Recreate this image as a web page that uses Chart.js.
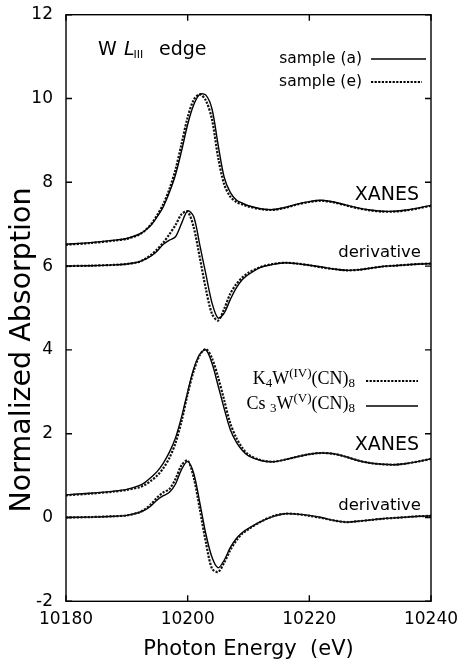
<!DOCTYPE html>
<html><head><meta charset="utf-8">
<script src="https://cdn.jsdelivr.net/npm/chart.js@4/dist/chart.umd.min.js"></script>
<style>html,body{margin:0;padding:0;background:#fff;}canvas{display:block;}</style>
</head><body>
<canvas id="c" width="459" height="666"></canvas>
<script>
// Photon energy grid (eV)
const energy = [10180,10184,10188,10190,10192,10193,10194,10195,10196,10197,10198,10199,10200,10201,10202,10203,10204,10205,10206,10207,10208,10209,10210,10212,10214,10216,10218,10220,10222,10224,10226,10228,10230,10232,10234,10236,10238,10240];

// Top group (offset): sample (a) solid, sample (e) dotted
const xanesSampleA = [6.52,6.56,6.62,6.66,6.76,6.85,6.98,7.18,7.42,7.76,8.18,8.75,9.38,9.85,10.1,10.08,9.75,8.9,8.12,7.76,7.58,7.5,7.44,7.37,7.35,7.4,7.48,7.54,7.57,7.53,7.46,7.39,7.34,7.31,7.31,7.34,7.39,7.45];
const xanesSampleE = [6.51,6.55,6.61,6.65,6.75,6.85,7.0,7.22,7.48,7.84,8.3,8.92,9.55,9.97,10.1,9.95,9.5,8.6,7.95,7.66,7.53,7.47,7.42,7.36,7.34,7.39,7.47,7.53,7.56,7.52,7.45,7.38,7.33,7.3,7.3,7.33,7.38,7.44];
const derivSampleA = [6.0,6.01,6.03,6.05,6.1,6.16,6.24,6.36,6.52,6.62,6.7,7.02,7.32,7.18,6.5,5.8,5.12,4.76,4.88,5.2,5.48,5.68,5.8,5.97,6.04,6.08,6.06,6.02,5.98,5.93,5.9,5.91,5.95,5.99,6.01,6.03,6.05,6.06];
const derivSampleE = [6.0,6.01,6.03,6.05,6.1,6.17,6.27,6.4,6.56,6.76,6.98,7.24,7.3,6.92,6.2,5.45,4.86,4.7,4.98,5.34,5.57,5.73,5.84,5.98,6.05,6.08,6.06,6.02,5.97,5.93,5.9,5.91,5.95,5.99,6.01,6.03,6.05,6.06];

// Bottom group: Cs3W(V)(CN)8 solid, K4W(IV)(CN)8 dotted
const xanesCs3 = [0.54,0.58,0.63,0.67,0.76,0.84,0.96,1.1,1.3,1.56,1.9,2.4,3.0,3.55,3.9,4.0,3.68,3.15,2.6,2.1,1.8,1.6,1.47,1.36,1.33,1.38,1.45,1.51,1.54,1.52,1.45,1.36,1.3,1.27,1.26,1.29,1.34,1.4];
const xanesK4 = [0.53,0.57,0.62,0.66,0.72,0.78,0.88,1.0,1.18,1.42,1.78,2.3,2.95,3.5,3.88,4.02,3.8,3.35,2.8,2.25,1.9,1.66,1.5,1.37,1.33,1.38,1.45,1.51,1.54,1.52,1.45,1.36,1.3,1.27,1.26,1.29,1.34,1.4];
const derivCs3 = [0.0,0.01,0.03,0.05,0.12,0.18,0.28,0.42,0.52,0.6,0.8,1.15,1.34,1.05,0.35,-0.4,-0.95,-1.2,-1.02,-0.72,-0.5,-0.36,-0.26,-0.1,0.02,0.09,0.08,0.05,0.0,-0.07,-0.11,-0.09,-0.06,-0.03,-0.01,0.01,0.03,0.04];
const derivK4 = [0.0,0.01,0.03,0.05,0.12,0.2,0.32,0.48,0.6,0.68,0.92,1.25,1.36,0.95,0.2,-0.6,-1.22,-1.3,-1.08,-0.78,-0.55,-0.38,-0.28,-0.1,0.03,0.09,0.08,0.04,-0.01,-0.07,-0.11,-0.09,-0.06,-0.03,-0.01,0.01,0.03,0.04];

// Axis ranges / ticks
const xRange = [10180, 10240], xStep = 20;
const yRange = [-2, 12], yStep = 2;

const SANS = '"DejaVu Sans", "Liberation Sans", sans-serif';
const SERIF = '"Liberation Serif", "DejaVu Serif", serif';

const pts = arr => energy.map((e, i) => ({x: e, y: arr[i]}));
const solid = (label, arr) => ({label, data: pts(arr), borderColor: '#000', borderWidth: 1.4, pointRadius: 0, fill: false, tension: 0.3});
const dotted = (label, arr) => ({label, data: pts(arr), borderColor: '#111', borderWidth: 2.2, borderDash: [2.2, 1.4], pointRadius: 0, fill: false, tension: 0.3});

function rich(ctx, parts, xRight, yBase) {
  let w = 0;
  parts.forEach(p => { ctx.font = p[1]; w += ctx.measureText(p[0]).width; });
  let x = xRight - w;
  parts.forEach(p => { ctx.font = p[1]; ctx.fillText(p[0], x, yBase + p[2]); x += ctx.measureText(p[0]).width; });
}

const deco = {
  id: 'deco',
  afterDatasetsDraw(chart) {
    const {ctx, chartArea: a, scales: {x, y}} = chart;
    ctx.save();
    ctx.strokeStyle = '#000'; ctx.lineWidth = 1.4; ctx.setLineDash([]);
    ctx.strokeRect(a.left, a.top, a.right - a.left, a.bottom - a.top);
    ctx.beginPath();
    y.ticks.forEach(t => { const py = y.getPixelForValue(t.value);
      ctx.moveTo(a.left, py); ctx.lineTo(a.left + 6, py);
      ctx.moveTo(a.right, py); ctx.lineTo(a.right - 6, py); });
    x.ticks.forEach(t => { const px = x.getPixelForValue(t.value);
      ctx.moveTo(px, a.bottom); ctx.lineTo(px, a.bottom - 6);
      ctx.moveTo(px, a.top); ctx.lineTo(px, a.top + 6); });
    ctx.stroke();

    ctx.fillStyle = '#000';
    // axis titles
    ctx.textAlign = 'center'; ctx.textBaseline = 'middle';
    ctx.font = '21px ' + SANS;
    ctx.fillText('Photon Energy  (eV)', (a.left + a.right) / 2, 650);
    ctx.save();
    ctx.translate(23, 350); ctx.rotate(-Math.PI / 2);
    ctx.font = '28.5px ' + SANS;
    ctx.fillText('Normalized Absorption', 0, 0);
    ctx.restore();

    // W L_III edge
    ctx.textAlign = 'left'; ctx.textBaseline = 'alphabetic';
    ctx.font = '19px ' + SANS; ctx.fillText('W', 98, 54.5);
    ctx.font = 'italic 19px ' + SANS; ctx.fillText('L', 124, 54.5);
    ctx.font = '11px ' + SANS; ctx.fillText('III', 133.5, 57.5);
    ctx.font = '19px ' + SANS; ctx.fillText('edge', 159, 54.5);

    // top legend
    ctx.textAlign = 'right'; ctx.textBaseline = 'middle';
    ctx.font = '15.5px ' + SANS;
    ctx.fillText('sample (a)', 362, 59);
    ctx.fillText('sample (e)', 362, 82);
    ctx.beginPath(); ctx.lineWidth = 1.4; ctx.setLineDash([]);
    ctx.moveTo(371, 59); ctx.lineTo(426, 59); ctx.stroke();
    ctx.beginPath(); ctx.lineWidth = 2.2; ctx.setLineDash([2.2, 1.4]);
    ctx.moveTo(371, 82); ctx.lineTo(422, 82); ctx.stroke();
    ctx.setLineDash([]);

    // curve labels
    ctx.font = '19px ' + SANS;
    ctx.fillText('XANES', 419, 195);
    ctx.fillText('XANES', 419, 445);
    ctx.font = '16.5px ' + SANS;
    ctx.fillText('derivative', 421, 253);
    ctx.fillText('derivative', 421, 506);

    // bottom legend (chemical formulas)
    ctx.textAlign = 'left'; ctx.textBaseline = 'alphabetic';
    const big = '18px ' + SERIF, small = '13px ' + SERIF;
    rich(ctx, [['K', big, 0], ['4', small, 3], ['W', big, 0], ['(IV)', small, -7], ['(CN)', big, 0], ['8', small, 3]], 355, 384);
    rich(ctx, [['Cs ', big, 0], ['3', small, 3], ['W', big, 0], ['(V)', small, -7], ['(CN)', big, 0], ['8', small, 3]], 355, 409);
    ctx.beginPath(); ctx.lineWidth = 2.2; ctx.setLineDash([2.2, 1.4]);
    ctx.moveTo(366, 381); ctx.lineTo(418, 381); ctx.stroke();
    ctx.beginPath(); ctx.lineWidth = 1.4; ctx.setLineDash([]);
    ctx.moveTo(366, 406); ctx.lineTo(418, 406); ctx.stroke();
    ctx.restore();
  }
};

new Chart(document.getElementById('c'), {
  type: 'line',
  data: {
    datasets: [
      solid('sample (a) XANES', xanesSampleA),
      dotted('sample (e) XANES', xanesSampleE),
      solid('sample (a) derivative', derivSampleA),
      dotted('sample (e) derivative', derivSampleE),
      dotted('K4W(IV)(CN)8 XANES', xanesK4),
      solid('Cs3W(V)(CN)8 XANES', xanesCs3),
      dotted('K4W(IV)(CN)8 derivative', derivK4),
      solid('Cs3W(V)(CN)8 derivative', derivCs3)
    ]
  },
  options: {
    responsive: false, animation: false, devicePixelRatio: 1,
    layout: {padding: {left: 0, right: 28, top: 14.7, bottom: 0}},
    plugins: {legend: {display: false}, tooltip: {enabled: false}},
    scales: {
      x: {type: 'linear', min: xRange[0], max: xRange[1],
          ticks: {stepSize: xStep, color: '#000', font: {family: SANS, size: 17}, padding: 8, maxRotation: 0,
                  callback: v => String(v)},
          grid: {display: false, drawTicks: false}, border: {display: false},
          afterFit(s) { s.height = 64.7; s.paddingLeft = 0; s.paddingRight = 0; }},
      y: {type: 'linear', min: yRange[0], max: yRange[1],
          ticks: {stepSize: yStep, color: '#000', font: {family: SANS, size: 17}, padding: 13,
                  callback: v => String(v)},
          grid: {display: false, drawTicks: false}, border: {display: false},
          afterFit(s) { s.width = 66; s.paddingTop = 0; s.paddingBottom = 0; }}
    }
  },
  plugins: [deco]
});
</script>
</body></html>
